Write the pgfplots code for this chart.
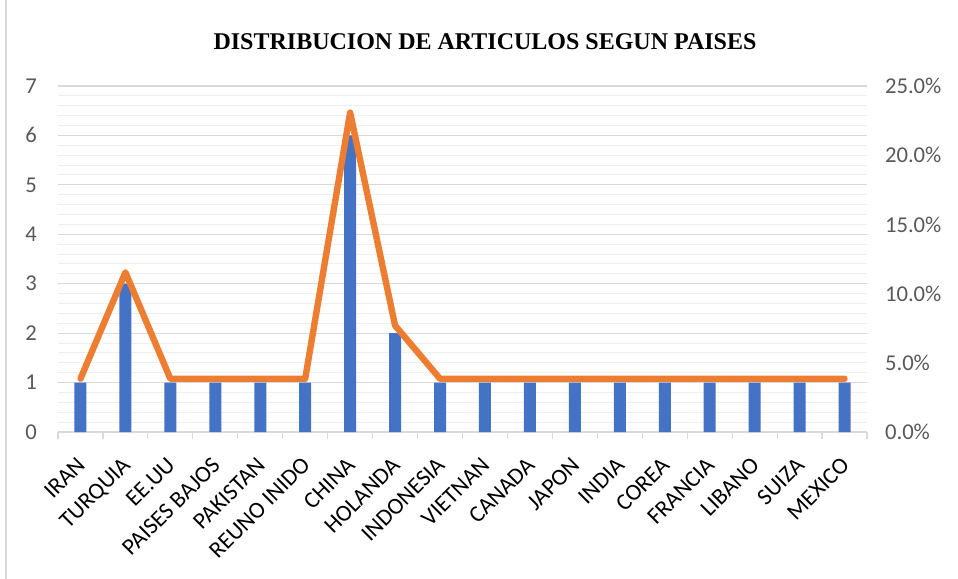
\documentclass[border=0pt]{standalone}
\usepackage{pgfplots}
\pgfplotsset{compat=1.18}
\usepackage{fontspec}
\setmainfont{Carlito}
\newfontfamily\titlefont{Liberation Serif}
\definecolor{barblue}{HTML}{4472C4}
\definecolor{lineorange}{HTML}{ED7D31}
\definecolor{gridmajor}{HTML}{D9D9D9}
\definecolor{gridminor}{HTML}{EFEFEF}
\definecolor{ticktext}{HTML}{595959}
\begin{document}
\begin{tikzpicture}
\useasboundingbox (0pt,0pt) rectangle (718.5pt,434.25pt);
\draw[draw=gridmajor, line width=1pt] (4.5pt,0pt) -- (4.5pt,434.25pt);
\node[font=\titlefont\bfseries\fontsize{18}{18}\selectfont, anchor=center] at (363.75pt,402.75pt) {DISTRIBUCION DE ARTICULOS SEGUN PAISES};
\begin{axis}[
  at={(43.5pt,110.25pt)}, anchor=south west,
  scale only axis, width=606.75pt, height=259.5pt,
  xmin=-0.5, xmax=17.5, ymin=0, ymax=7,
  ytick={0,1,...,7}, minor y tick num=4,
  ymajorgrids, yminorgrids,
  major grid style={draw=gridmajor, line width=0.9pt},
  minor grid style={draw=gridminor, line width=0.75pt},
  axis x line*=bottom, axis y line*=left,
  x axis line style={draw=gridmajor, line width=0.9pt},
  y axis line style={draw=none},
  ytick style={draw=none},
  xtick={0,1,...,17},
  xticklabels={IRAN,TURQUIA,EE.UU,PAISES BAJOS,PAKISTAN,REUNO INIDO,CHINA,HOLANDA,INDONESIA,VIETNAN,CANADA,JAPON,INDIA,COREA,FRANCIA,LIBANO,SUIZA,MEXICO},
  major x tick style={draw=none},
  minor xtick={-0.5,0.5,...,17.5},
  minor x tick style={draw=gridmajor, line width=0.9pt},
  tick align=outside, minor tick length=5pt,
  /pgf/number format/assume math mode=true,
  x tick label style={rotate=45, anchor=north east, font=\fontsize{17.5}{17.5}\selectfont, text=black, inner sep=1pt, xshift=-11pt, yshift=-6pt},
  y tick label style={font=\fontsize{17}{17}\selectfont, text=ticktext},
  yticklabel style={xshift=-8pt},
  clip=false,
]
\addplot[ybar, bar width=9pt, fill=barblue, draw=none] coordinates {
(0,1) (1,3) (2,1) (3,1) (4,1) (5,1) (6,6) (7,2) (8,1) (9,1) (10,1) (11,1) (12,1) (13,1) (14,1) (15,1) (16,1) (17,1)};
\end{axis}
\begin{axis}[
  at={(43.5pt,110.25pt)}, anchor=south west,
  scale only axis, width=606.75pt, height=259.5pt,
  xmin=-0.5, xmax=17.5, ymin=0, ymax=25,
  ytick={0,5,...,25},
  axis y line*=right, axis x line=none,
  y axis line style={draw=none},
  ytick style={draw=none},
  /pgf/number format/assume math mode=true,
  yticklabel={\pgfmathprintnumber[fixed,fixed zerofill,precision=1]{\tick}\%},
  y tick label style={font=\fontsize{17}{17}\selectfont, text=ticktext, anchor=west, xshift=10pt},
  clip=false,
]
\addplot[draw=lineorange, line width=4.8pt, line cap=round, line join=round] coordinates {
(0,3.846) (1,11.538) (2,3.846) (3,3.846) (4,3.846) (5,3.846) (6,23.077) (7,7.692) (8,3.846) (9,3.846) (10,3.846) (11,3.846) (12,3.846) (13,3.846) (14,3.846) (15,3.846) (16,3.846) (17,3.846)};
\end{axis}
\end{tikzpicture}
\end{document}
